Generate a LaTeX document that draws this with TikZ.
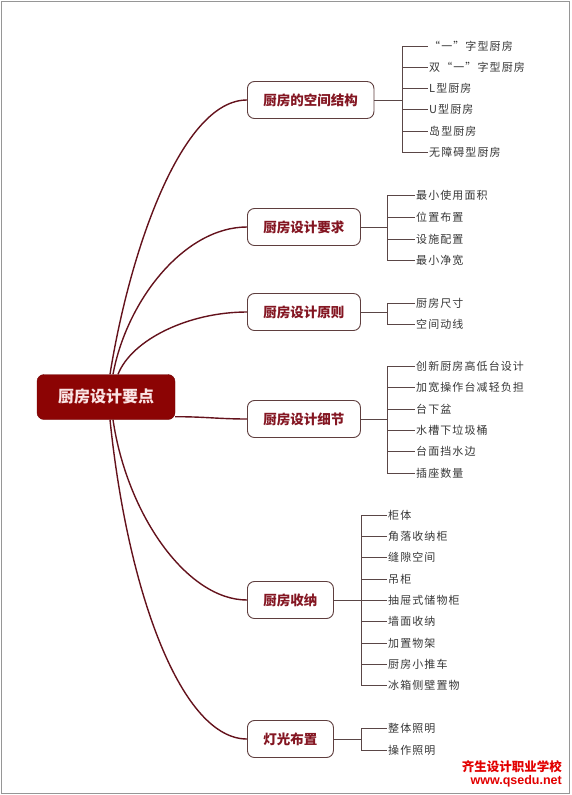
\documentclass[tikz,border=0pt]{standalone}
\usepackage{fontspec}
\setmainfont{Noto Sans CJK SC}
\newfontfamily\urlfont{Liberation Sans}
\usepackage{xcolor}
\usepackage{tikz}
\usetikzlibrary{positioning}

\definecolor{rootred}{RGB}{140,4,4}
\definecolor{roottext}{RGB}{250,228,228}
\definecolor{branchtext}{RGB}{132,22,34}
\definecolor{boxline}{RGB}{95,62,62}
\definecolor{curvecol}{RGB}{100,18,28}
\definecolor{tickcol}{RGB}{90,70,70}
\definecolor{leafgray}{RGB}{55,55,55}
\definecolor{markred}{RGB}{226,0,0}
\definecolor{framegray}{RGB}{150,150,150}

\newcommand\leaffont{\fontsize{11}{13}\selectfont\addfontfeature{LetterSpace=10}}

\tikzset{
	rootbox/.style={draw=rootred!80!black,fill=rootred,rounded corners=7pt,
		minimum width=138pt,minimum height=45pt,text=roottext,
		font=\fontsize{16}{19}\selectfont\bfseries},
	branchbox/.style={draw=boxline,fill=white,rounded corners=7pt,line width=0.9pt,
		anchor=west,inner xsep=16pt,minimum height=37pt,text=branchtext,
		font=\fontsize{13.5}{16}\selectfont\bfseries},
	leaf/.style={anchor=west,inner sep=1pt,text=leafgray,font=\leaffont},
	curve/.style={draw=curvecol,line width=1.4pt},
	tick/.style={draw=tickcol,line width=0.9pt},
}

\begin{document}
\begin{tikzpicture}[x=1pt,y=-1pt]
		\useasboundingbox (0,0) rectangle (571,795);
		\draw[framegray,line width=1.5pt] (1.5,1.5) rectangle (569.5,793.5);
		%
		\node[rootbox] (root) at (106,397) {厨房设计要点};
		%
		\node[branchbox] (b1) at (247,100) {厨房的空间结构};
		\node[branchbox] (b2) at (247,227) {厨房设计要求};
		\node[branchbox] (b3) at (247,312) {厨房设计原则};
		\node[branchbox] (b4) at (247,419) {厨房设计细节};
		\node[branchbox] (b5) at (247,600) {厨房收纳};
		\node[branchbox] (b6) at (247,739) {灯光布置};
		%
		\coordinate (j1) at (402,100);
		\coordinate (j2) at (387,227);
		\coordinate (j3) at (387,312);
		\coordinate (j4) at (387,419);
		\coordinate (j5) at (361,600);
		\coordinate (j6) at (361,739);
		%
		\node[leaf] (c11) at (428,46) {“一”字型厨房};
		\node[leaf] (c12) at (428,67) {双“一”字型厨房};
		\node[leaf] (c13) at (428,88) {L型厨房};
		\node[leaf] (c14) at (428,109) {U型厨房};
		\node[leaf] (c15) at (428,131) {岛型厨房};
		\node[leaf] (c16) at (428,152) {无障碍型厨房};
		%
		\node[leaf] (c21) at (415,195) {最小使用面积};
		\node[leaf] (c22) at (415,217) {位置布置};
		\node[leaf] (c23) at (415,239) {设施配置};
		\node[leaf] (c24) at (415,260) {最小净宽};
		%
		\node[leaf] (c31) at (415,303) {厨房尺寸};
		\node[leaf] (c32) at (415,324) {空间动线};
		%
		\node[leaf] (c41) at (415,366) {创新厨房高低台设计};
		\node[leaf] (c42) at (415,387) {加宽操作台减轻负担};
		\node[leaf] (c43) at (415,409) {台下盆};
		\node[leaf] (c44) at (415,430) {水槽下垃圾桶};
		\node[leaf] (c45) at (415,451) {台面挡水边};
		\node[leaf] (c46) at (415,473) {插座数量};
		%
		\node[leaf] (c51) at (387,515) {柜体};
		\node[leaf] (c52) at (387,536) {角落收纳柜};
		\node[leaf] (c53) at (387,557) {缝隙空间};
		\node[leaf] (c54) at (387,579) {吊柜};
		\node[leaf] (c55) at (387,600) {抽屉式储物柜};
		\node[leaf] (c56) at (387,621) {墙面收纳};
		\node[leaf] (c57) at (387,643) {加置物架};
		\node[leaf] (c58) at (387,664) {厨房小推车};
		\node[leaf] (c59) at (387,685) {冰箱侧壁置物};
		%
		\node[leaf] (c61) at (387,728) {整体照明};
		\node[leaf] (c62) at (387,750) {操作照明};
		%
		\node[anchor=east,inner sep=0pt,text=markred,font=\fontsize{12.5}{14}\selectfont\bfseries] (mark1) at (562,767) {齐生设计职业学校};
		\node[anchor=east,inner sep=0pt,text=markred,font=\urlfont\fontsize{12.5}{14}\selectfont\bfseries] (mark2) at (562,781) {www.qsedu.net};
		%
		% main branches
		\draw[curve] ([xshift=4pt]root.north) .. controls +(20,-125) and +(-65,0) .. (b1.west);
		\draw[curve] ([xshift=7pt]root.north) .. controls +(14,-75) and +(-62,0) .. (b2.west);
		\draw[curve] ([xshift=12pt]root.north) .. controls +(14,-35) and +(-58,0) .. (b3.west);
		\draw[curve] ([yshift=3pt]root.south east) .. controls +(30,0) and +(-28,0) .. (b4.west);
		\draw[curve] ([xshift=7pt]root.south) .. controls +(14,95) and +(-60,0) .. (b5.west);
		\draw[curve] ([xshift=4pt]root.south) .. controls +(18,175) and +(-65,0) .. (b6.west);
		%
		% sub branches
		\path[tick]
		(b1.east) edge (j1) (j1 |- c11) edge (j1 |- c16)
		(j1 |- c11) edge (c11.west) (j1 |- c12) edge (c12.west) (j1 |- c13) edge (c13.west)
		(j1 |- c14) edge (c14.west) (j1 |- c15) edge (c15.west) (j1 |- c16) edge (c16.west)
		(b2.east) edge (j2) (j2 |- c21) edge (j2 |- c24)
		(j2 |- c21) edge (c21.west) (j2 |- c22) edge (c22.west)
		(j2 |- c23) edge (c23.west) (j2 |- c24) edge (c24.west)
		(b3.east) edge (j3) (j3 |- c31) edge (j3 |- c32)
		(j3 |- c31) edge (c31.west) (j3 |- c32) edge (c32.west)
		(b4.east) edge (j4) (j4 |- c41) edge (j4 |- c46)
		(j4 |- c41) edge (c41.west) (j4 |- c42) edge (c42.west) (j4 |- c43) edge (c43.west)
		(j4 |- c44) edge (c44.west) (j4 |- c45) edge (c45.west) (j4 |- c46) edge (c46.west)
		(b5.east) edge (j5) (j5 |- c51) edge (j5 |- c59)
		(j5 |- c51) edge (c51.west) (j5 |- c52) edge (c52.west) (j5 |- c53) edge (c53.west)
		(j5 |- c54) edge (c54.west) (j5 |- c55) edge (c55.west) (j5 |- c56) edge (c56.west)
		(j5 |- c57) edge (c57.west) (j5 |- c58) edge (c58.west) (j5 |- c59) edge (c59.west)
		(b6.east) edge (j6) (j6 |- c61) edge (j6 |- c62)
		(j6 |- c61) edge (c61.west) (j6 |- c62) edge (c62.west);
\end{tikzpicture}
\end{document}
